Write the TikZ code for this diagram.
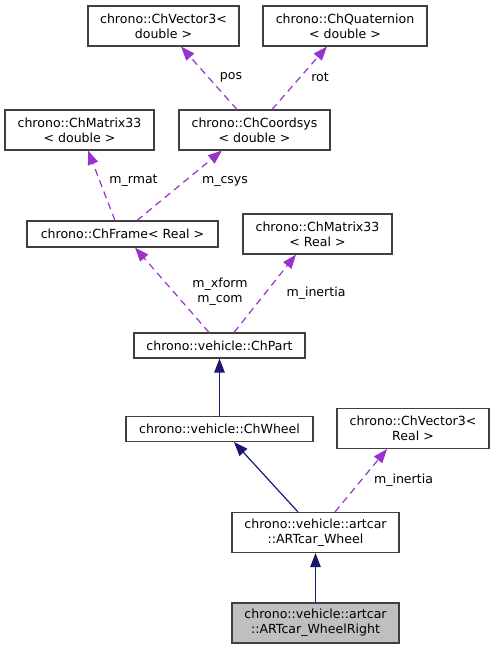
\documentclass[tikz,border=0pt]{standalone}
\usepackage{fontspec}
\setmainfont{DejaVu Sans}
\usetikzlibrary{arrows.meta}
\definecolor{edgepurple}{HTML}{9A32CD}
\definecolor{edgenavy}{HTML}{191970}
\definecolor{boxline}{HTML}{404040}
\definecolor{hifill}{HTML}{BFBFBF}
\tikzset{
  cls/.style={draw=boxline, line width=1.1bp, fill=white, inner sep=0pt, align=center,
    font=\fontsize{12.6}{15}\selectfont},
  hicls/.style={cls, fill=hifill},
  lbl/.style={inner sep=0pt, align=center, font=\fontsize{12.6}{15}\selectfont},
  uses/.style={draw=edgepurple, line width=1.2bp, dash pattern=on 7bp off 5bp,
    -{Triangle[length=14bp,width=10.5bp,fill=edgepurple]}},
  inh/.style={draw=edgenavy, line width=1.2bp,
    -{Triangle[length=14bp,width=10.5bp,fill=edgenavy]}},
}
\begin{document}
\begin{tikzpicture}[x=1bp,y=-1bp]
\useasboundingbox (0,0) rectangle (494,649);
% nodes
\node[cls, minimum width=151bp, minimum height=40bp] (v3d) at (163.5,26) {chrono::ChVector3<\\double >};
\node[cls, minimum width=164bp, minimum height=40bp] (quat) at (345,26) {chrono::ChQuaternion\\< double >};
\node[cls, minimum width=149bp, minimum height=40bp] (m33d) at (79.5,130) {chrono::ChMatrix33\\< double >};
\node[cls, minimum width=151bp, minimum height=40bp] (csys) at (254.5,130) {chrono::ChCoordsys\\< double >};
\node[cls, minimum width=191bp, minimum height=26bp] (frame) at (122.5,234) {chrono::ChFrame< Real >};
\node[cls, minimum width=149bp, minimum height=40bp] (m33r) at (317.5,234) {chrono::ChMatrix33\\< Real >};
\node[cls, minimum width=171bp, minimum height=25bp] (part) at (219.5,345.5) {chrono::vehicle::ChPart};
\node[cls, minimum width=187bp, minimum height=25bp] (wheel) at (219.5,429) {chrono::vehicle::ChWheel};
\node[cls, minimum width=152bp, minimum height=40bp] (v3r) at (413,428.5) {chrono::ChVector3<\\Real >};
\node[cls, minimum width=167bp, minimum height=40bp] (aw) at (315.5,532.5) {chrono::vehicle::artcar\\::ARTcar\_Wheel};
\node[hicls, minimum width=167bp, minimum height=40bp] (wr) at (315.5,623) {chrono::vehicle::artcar\\::ARTcar\_WheelRight};
% edges
\draw[uses] ([xshift=-17.5bp]csys.north) -- ([xshift=17.5bp]v3d.south);
\draw[uses] ([xshift=17.5bp]csys.north) -- ([xshift=-18bp]quat.south);
\draw[uses] ([xshift=-7.5bp]frame.north) -- ([xshift=8.5bp]m33d.south);
\draw[uses] ([xshift=14.5bp]frame.north) -- ([xshift=-32.5bp]csys.south);
\draw[uses] ([xshift=-10.5bp]part.north) -- ([xshift=12.5bp]frame.south);
\draw[uses] ([xshift=14.5bp]part.north) -- ([xshift=-21.5bp]m33r.south);
\draw[inh] (wheel.north) -- (part.south);
\draw[inh] ([xshift=-17.5bp]aw.north) -- ([xshift=14.5bp]wheel.south);
\draw[uses] ([xshift=19.5bp]aw.north) -- ([xshift=-26bp]v3r.south);
\draw[inh] (wr.north) -- (aw.south);
% labels
\node[lbl] (lpos) at (231,77) {pos};
\node[lbl] (lrot) at (320,77) {rot};
\node[lbl] (lrmat) at (133.5,181) {m\_rmat};
\node[lbl] (lcsys) at (225,181) {m\_csys};
\node[lbl] (lxform) at (220,291.5) {m\_xform\\m\_com};
\node[lbl] (lin1) at (316,293) {m\_inertia};
\node[lbl] (lin2) at (403.5,480) {m\_inertia};
\end{tikzpicture}
\end{document}
